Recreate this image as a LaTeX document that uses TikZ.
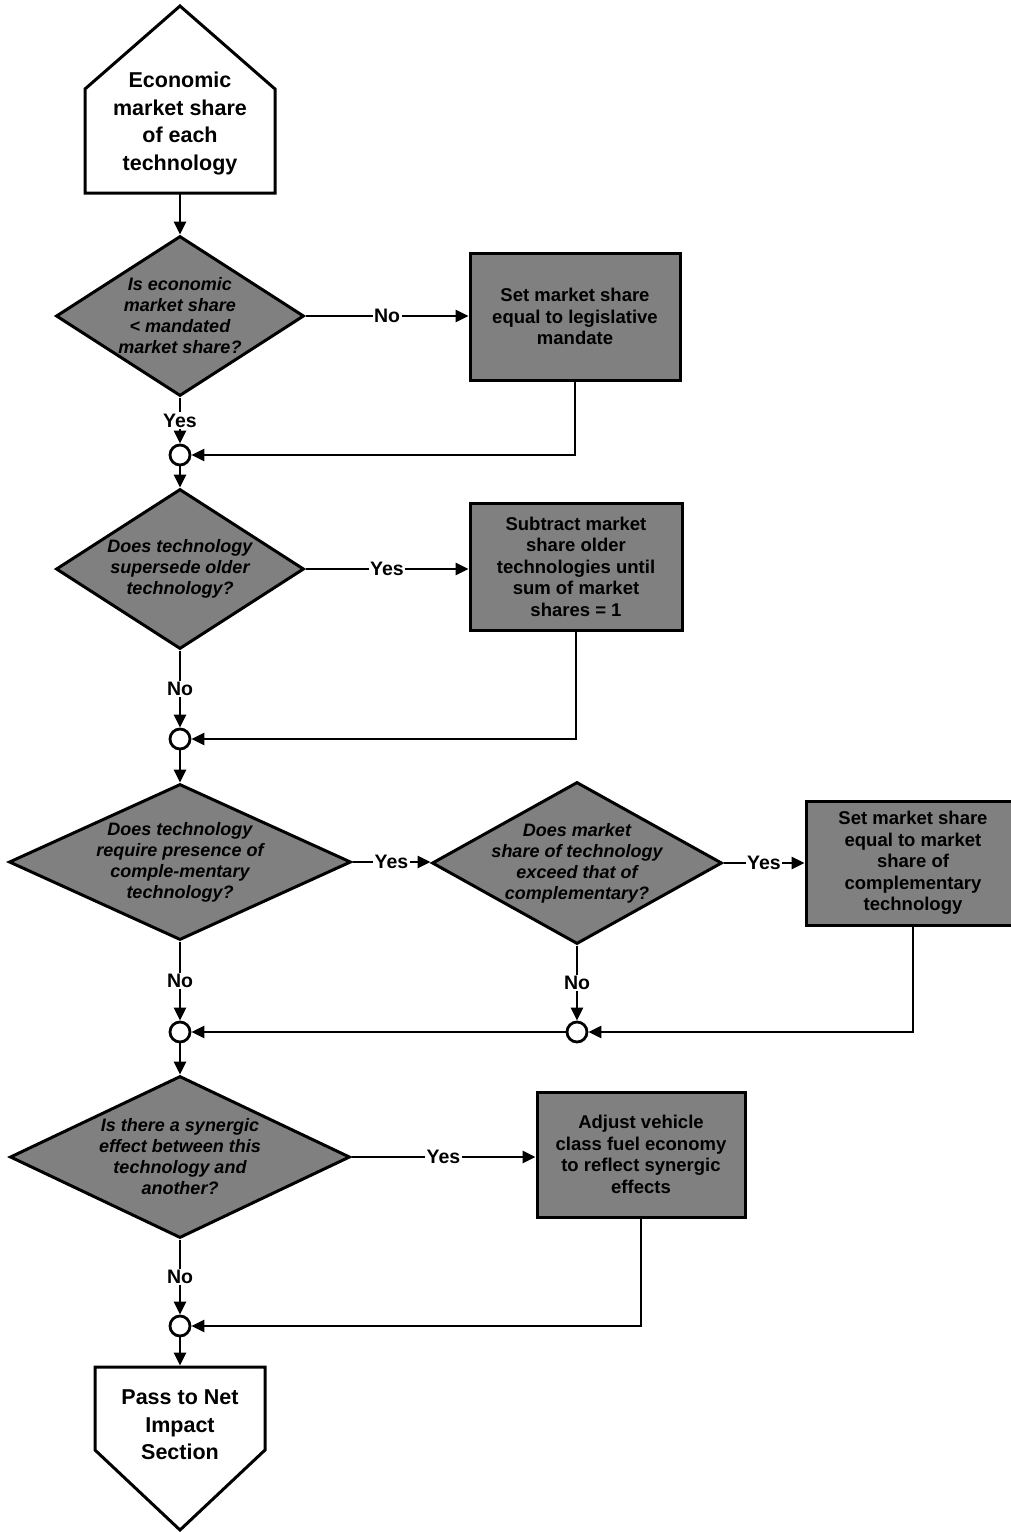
\documentclass[tikz,border=0pt]{standalone}
\usepackage{fontspec}
\setmainfont{Liberation Sans}
\usetikzlibrary{shapes.geometric,arrows.meta}
\begin{document}
\begin{tikzpicture}[x=1pt,y=-1pt,
  arr/.style={-{Triangle[length=13pt,width=12pt]}, line width=2.8pt},
  dia/.style={diamond, draw, fill=black!50, line width=3pt, inner sep=0pt},
  dtext/.style={font=\fontsize{18}{21}\selectfont\bfseries\itshape, align=center, inner sep=0pt},
  proc/.style={rectangle, draw, fill=black!50, line width=3pt, align=center,
               font=\fontsize{18.5}{21.5}\selectfont\bfseries, inner sep=0pt},
  joint/.style={circle, draw, fill=white, minimum size=20pt, inner sep=0pt, line width=2.8pt},
  lbl/.style={fill=white, inner sep=1.5pt, font=\fontsize{19.5}{21}\selectfont\bfseries},
  term/.style={align=center, font=\fontsize{21.5}{27.5}\selectfont\bfseries, inner sep=0pt},
  termline/.style={draw, fill=white, line width=3pt, line join=miter}]

\useasboundingbox (0,0) rectangle (1011,1532);
\fill[white] (0,0) rectangle (1011,1532);

% top terminal
\draw[termline] (85,193) -- (85,89) -- (180,6) -- (275,89) -- (275,193) -- cycle;
\node[term] (start) at (180,123.5) {Economic\\market share\\of each\\technology};
\coordinate (startb) at (180,193);

% row 1
\node[dia, minimum width=248pt, minimum height=160pt] (d1) at (180,316) {};
\node[dtext] (d1t) at (d1.center) {Is economic\\market share\\< mandated\\market share?};
\node[proc, minimum width=210pt, minimum height=127pt] (b1) at (575,316.5)
  {Set market share\\equal to legislative\\mandate};
\node[joint] (c1) at (180,455) {};

% row 2
\node[dia, minimum width=248pt, minimum height=160pt] (d2) at (180,569) {};
\node[dtext] (d2t) at (d2.center) {Does technology\\supersede older\\technology?};
\node[proc, minimum width=212pt, minimum height=127pt] (b2) at (576,566.5)
  {Subtract market\\share older\\technologies until\\sum of market\\shares = 1};
\node[joint] (c2) at (180,739) {};

% row 3
\node[dia, minimum width=342pt, minimum height=156pt] (d3) at (180,862) {};
\node[dtext] (d3t) at (d3.center) {Does technology\\require presence of\\comple-mentary\\technology?};
\node[dia, minimum width=290pt, minimum height=162pt] (d4) at (577,863) {};
\node[dtext] (d4t) at (d4.center) {Does market\\share of technology\\exceed that of\\complementary?};
\node[proc, minimum width=214pt, minimum height=124pt] (b3) at (913,863)
  {Set market share\\equal to market\\share of\\complementary\\technology};
\node[joint] (c3) at (180,1032) {};
\node[joint] (c4) at (577,1032) {};

% row 4
\node[dia, minimum width=340pt, minimum height=162pt] (d5) at (180,1157) {};
\node[dtext] (d5t) at (d5.center) {Is there a synergic\\effect between this\\technology and\\another?};
\node[proc, minimum width=208pt, minimum height=125pt] (b4) at (641,1154.5)
  {Adjust vehicle\\class fuel economy\\to reflect synergic\\effects};
\node[joint] (c5) at (180,1326) {};

% bottom terminal
\draw[termline] (95,1367) -- (265,1367) -- (265,1450) -- (180,1530) -- (95,1450) -- cycle;
\node[term] (endn) at (180,1425) {Pass to Net\\Impact\\Section};
\coordinate (endt) at (180,1367);

% connectors
\draw[arr] (startb) -- (d1.north);
\draw[arr] (d1.east) -- node[lbl] (l1) {No} (d1.east -| b1.west);
\draw[arr] (d1.south) -- node[lbl] (l2) {Yes} (c1.north);
\draw[arr] (b1.south) |- (c1.east);
\draw[arr] (c1.south) -- (d2.north);

\draw[arr] (d2.east) -- node[lbl] (l3) {Yes} (d2.east -| b2.west);
\draw[arr] (d2.south) -- node[lbl] (l4) {No} (c2.north);
\draw[arr] (b2.south) |- (c2.east);
\draw[arr] (c2.south) -- (d3.north);

\draw[arr] (d3.east) -- node[lbl] (l5) {Yes} (d3.east -| d4.west);
\draw[arr] (d4.east) -- node[lbl] (l6) {Yes} (d4.east -| b3.west);
\draw[arr] (d4.south) -- node[lbl] (l7) {No} (c4.north);
\draw[arr] (d3.south) -- node[lbl] (l8) {No} (c3.north);
\draw[arr] (b3.south) |- (c4.east);
\draw[arr] (c4.west) -- (c3.east);
\draw[arr] (c3.south) -- (d5.north);

\draw[arr] (d5.east) -- node[lbl] (l9) {Yes} (d5.east -| b4.west);
\draw[arr] (d5.south) -- node[lbl] (l10) {No} (c5.north);
\draw[arr] (b4.south) |- (c5.east);
\draw[arr, shorten >=1.5pt] (c5.south) -- (endt);

\end{tikzpicture}
\end{document}
